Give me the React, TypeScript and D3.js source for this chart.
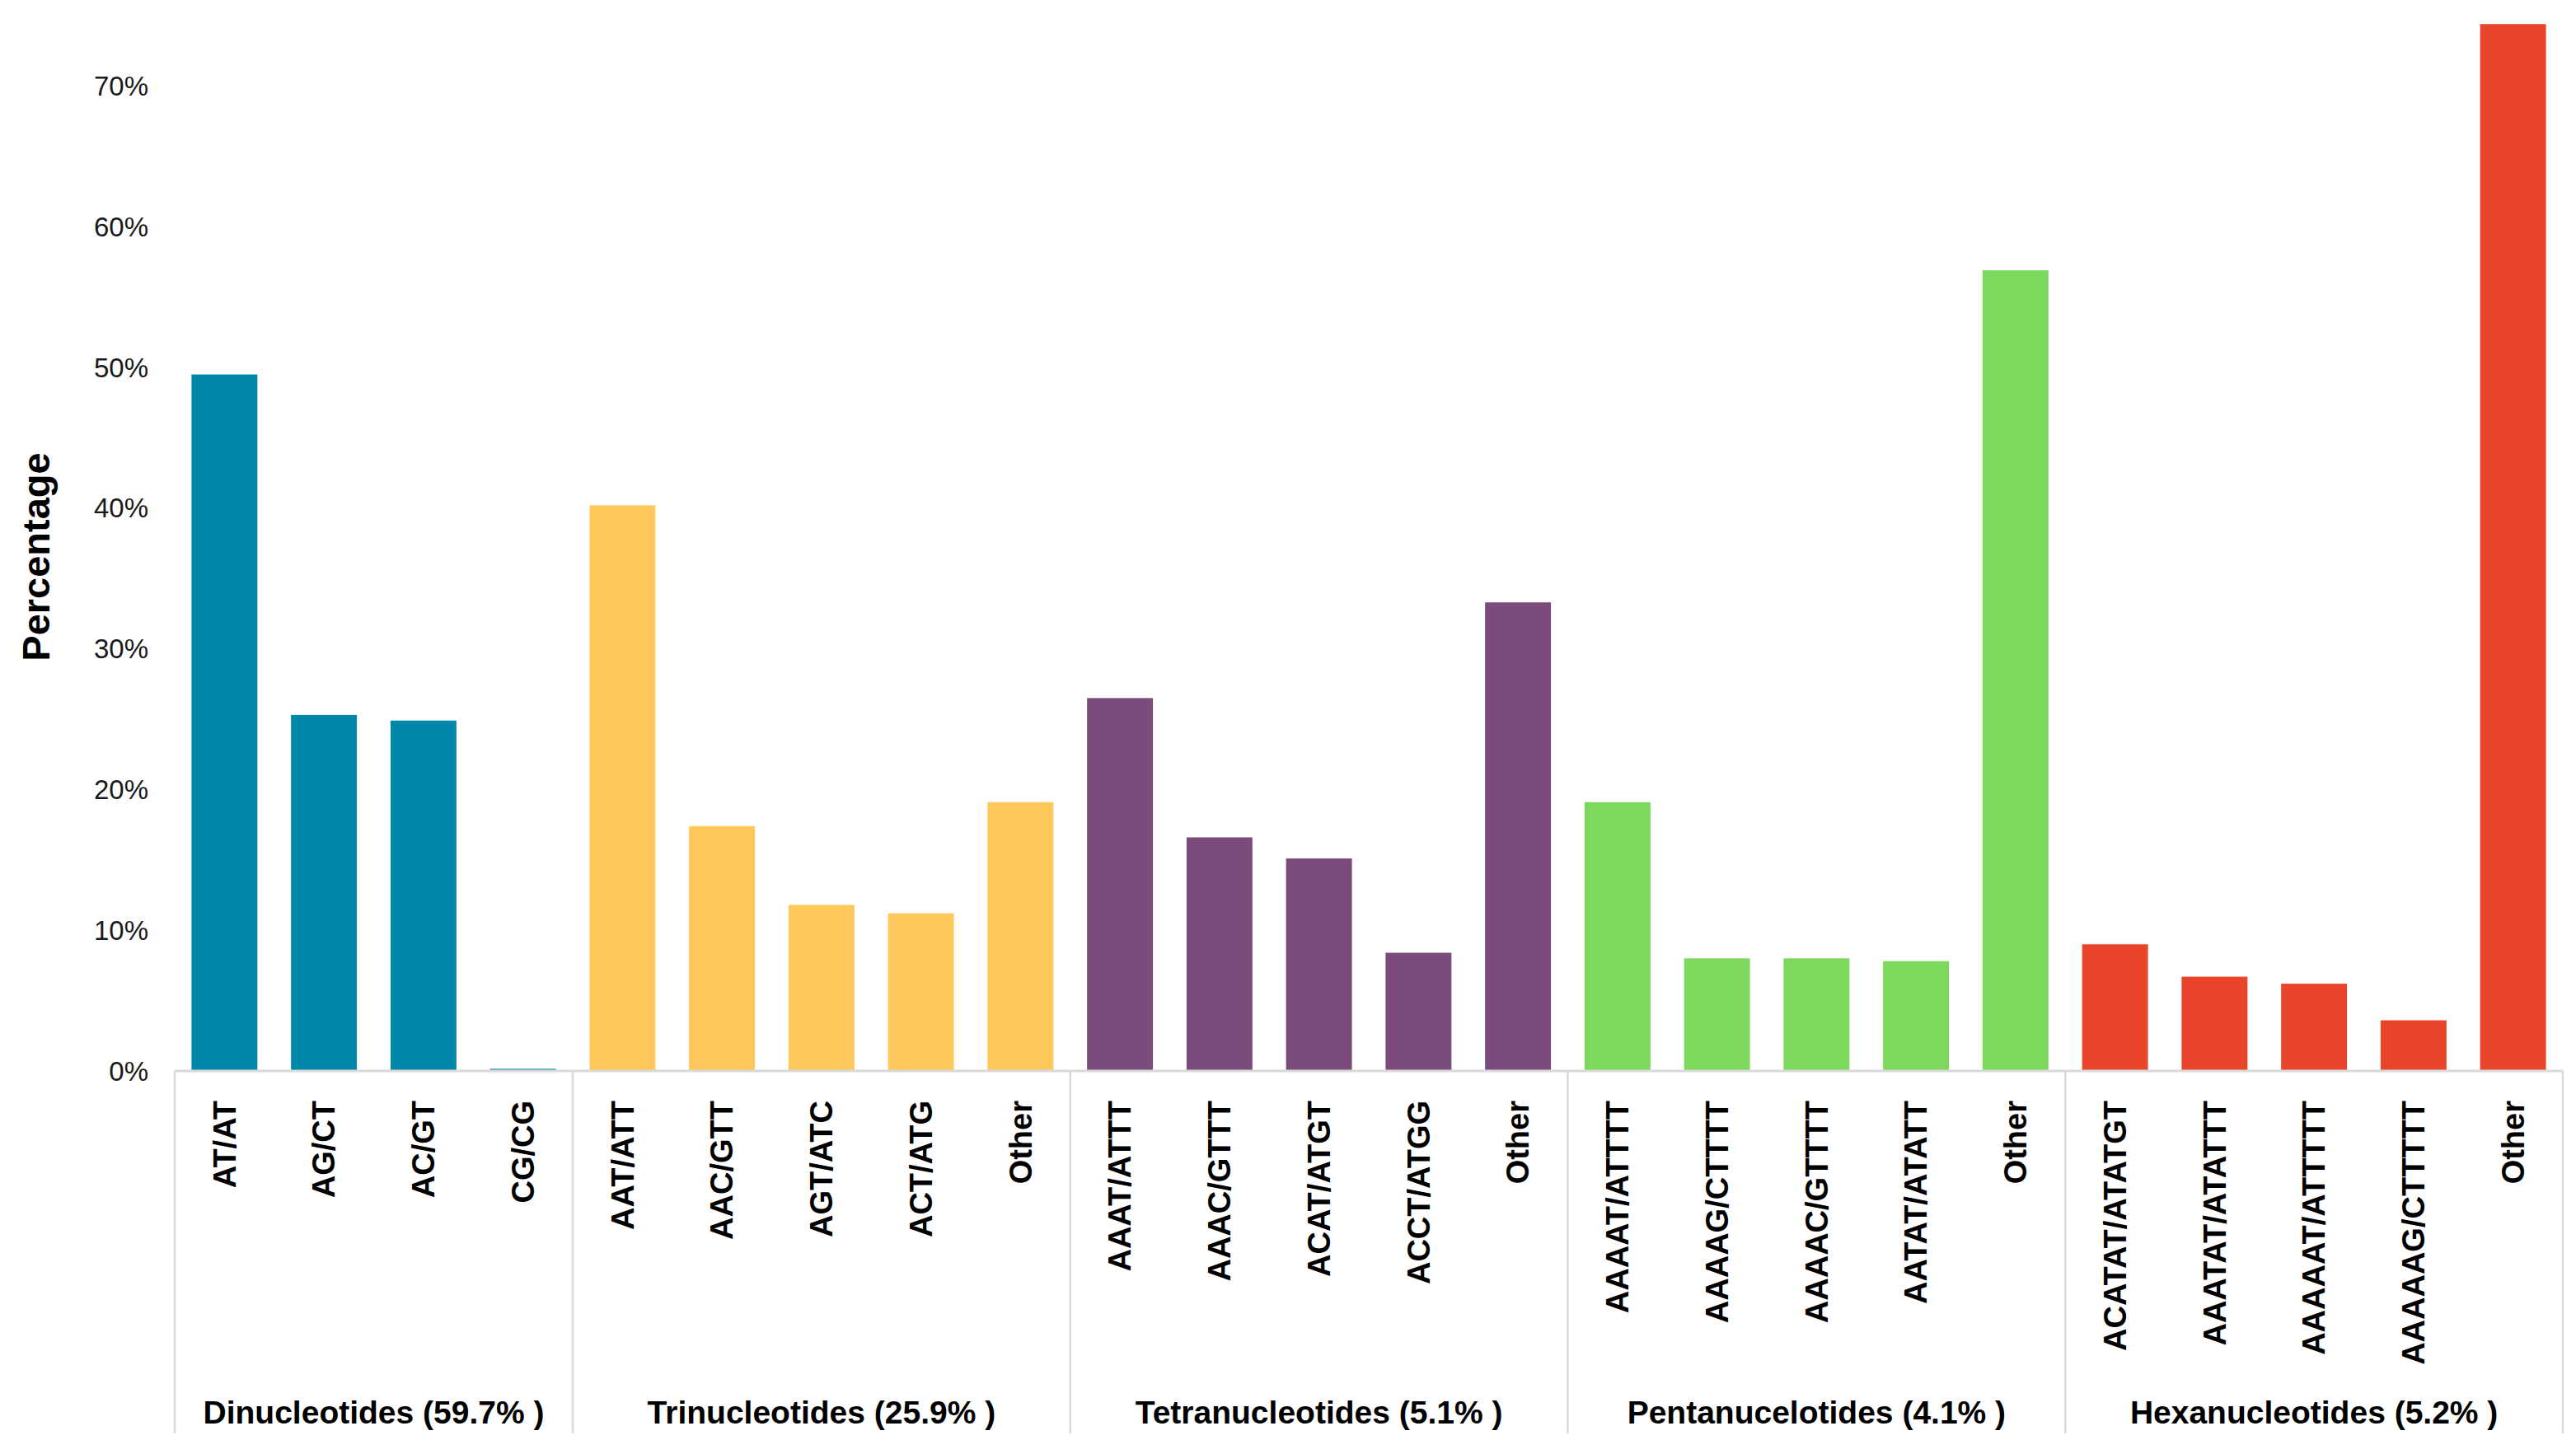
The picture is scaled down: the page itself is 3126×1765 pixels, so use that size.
import { useMemo } from 'react';
import * as d3 from 'd3';

const GROUPS = [
  'Dinucleotides (59.7% )',
  'Trinucleotides (25.9% )',
  'Tetranucleotides (5.1% )',
  'Pentanucelotides (4.1% )',
  'Hexanucleotides (5.2% )',
];
const GROUP_COLORS = ['#0087A9', '#FEC85A', '#7A4B7B', '#7DD95E', '#E8452B'];

const DI_MOTIFS = ['AT/AT', 'AG/CT', 'AC/GT', 'CG/CG'];
const DI_VALUES = [49.5, 25.3, 24.9, 0.15];
const TRI_MOTIFS = ['AAT/ATT', 'AAC/GTT', 'AGT/ATC', 'ACT/ATG', 'Other'];
const TRI_VALUES = [40.2, 17.4, 11.8, 11.2, 19.1];
const TETRA_MOTIFS = ['AAAT/ATTT', 'AAAC/GTTT', 'ACAT/ATGT', 'ACCT/ATGG', 'Other'];
const TETRA_VALUES = [26.5, 16.6, 15.1, 8.4, 33.3];
const PENTA_MOTIFS = ['AAAAT/ATTTT', 'AAAAG/CTTTT', 'AAAAC/GTTTT', 'AATAT/ATATT', 'Other'];
const PENTA_VALUES = [19.1, 8.0, 8.0, 7.8, 56.9];
const HEXA_MOTIFS = ['ACATAT/ATATGT', 'AAATAT/ATATTT', 'AAAAAT/ATTTTT', 'AAAAAG/CTTTTT', 'Other'];
const HEXA_VALUES = [9.0, 6.7, 6.2, 3.6, 74.4];

const Y_TICKS = [0, 10, 20, 30, 40, 50, 60, 70];

const W = 3126;
const H = 1765;
const FONT = 'Liberation Sans, Arial, sans-serif';

export default function App() {
  const motifs = [DI_MOTIFS, TRI_MOTIFS, TETRA_MOTIFS, PENTA_MOTIFS, HEXA_MOTIFS];
  const values = [DI_VALUES, TRI_VALUES, TETRA_VALUES, PENTA_VALUES, HEXA_VALUES];

  const bars = useMemo(() => {
    const out: { key: string; label: string; value: number; group: number }[] = [];
    motifs.forEach((list, g) => {
      list.forEach((m, i) => out.push({ key: `${g}-${i}`, label: m, value: values[g][i], group: g }));
    });
    return out;
  }, []);

  const left = 212;
  const right = 3110;
  const zeroY = 1300;
  const axisBottom = 1740;

  const x = d3.scaleBand<string>()
    .domain(bars.map(b => b.key))
    .range([left, right])
    .paddingInner(0.338)
    .paddingOuter(0.169);

  const y = d3.scaleLinear().domain([0, 70]).range([zeroY, zeroY - 7 * 170.8]);

  // group boundaries in band units
  const step = x.step();
  const bounds: number[] = [left];
  let acc = 0;
  motifs.forEach(list => {
    acc += list.length;
    bounds.push(left + acc * step);
  });

  return (
    <svg width={W} height={H} style={{ position: 'absolute', left: 0, top: 0, background: '#fff' }}>
      {/* y tick labels */}
      {Y_TICKS.map(t => (
        <text key={t} x={180} y={y(t)} dy="0.35em" textAnchor="end" fontFamily={FONT} fontSize={33} fill="#1a1a1a">
          {`${t}%`}
        </text>
      ))}
      <text
        transform={`translate(44,${676}) rotate(-90)`}
        textAnchor="middle"
        dy="0.35em"
        fontFamily={FONT}
        fontWeight="bold"
        fontSize={47}
        fill="#000"
      >
        Percentage
      </text>

      {/* bars */}
      {bars.map(b => (
        <rect
          key={b.key}
          x={x(b.key)}
          y={y(b.value)}
          width={x.bandwidth()}
          height={zeroY - y(b.value)}
          fill={GROUP_COLORS[b.group]}
        />
      ))}

      {/* axis and separators */}
      <line x1={left} x2={right} y1={zeroY} y2={zeroY} stroke="#d9d9d9" strokeWidth={3} />
      {bounds.map((bx, i) => (
        <line key={i} x1={bx} x2={bx} y1={zeroY} y2={axisBottom} stroke="#d9d9d9" strokeWidth={2.5} />
      ))}

      {/* category labels */}
      {bars.map(b => (
        <text
          key={b.key}
          transform={`translate(${(x(b.key) ?? 0) + x.bandwidth() / 2},${1336}) rotate(-90)`}
          textAnchor="end"
          dy="0.35em"
          fontFamily={FONT}
          fontWeight="bold"
          fontSize={38}
          fill="#000"
        >
          {b.label}
        </text>
      ))}

      {/* group labels */}
      {GROUPS.map((g, i) => (
        <text
          key={g}
          x={(bounds[i] + bounds[i + 1]) / 2}
          y={1714}
          dy="0.35em"
          textAnchor="middle"
          fontFamily={FONT}
          fontWeight="bold"
          fontSize={39}
          fill="#000"
        >
          {g}
        </text>
      ))}
    </svg>
  );
}
